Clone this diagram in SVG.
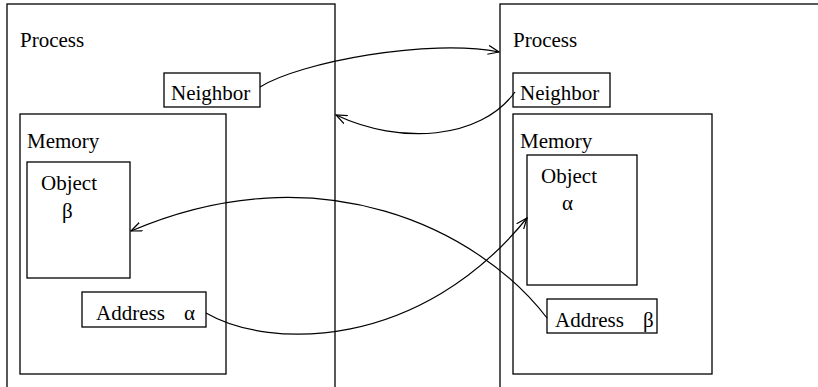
<svg xmlns="http://www.w3.org/2000/svg" width="818" height="387" viewBox="0 0 818 387">
  <style>
    rect { fill: none; stroke: #000; stroke-width: 1.3; }
    text { font-family: 'Liberation Serif', 'Times New Roman', Times, Tinos, 'Nimbus Roman', 'Noto Serif', 'DejaVu Serif', FreeSerif, serif; font-size: 21px; fill: #000; }
    .link { fill: none; stroke: #000; stroke-width: 1.2; marker-end: url(#arrow); }
  </style>
  <defs>
    <marker id="arrow" viewBox="0 0 12 10" refX="11" refY="5" markerWidth="12" markerHeight="10" markerUnits="userSpaceOnUse" orient="auto">
      <path d="M0,0.5 L11,5 L0,9.5" fill="none" stroke="#000" stroke-width="1.2"/>
    </marker>
  </defs>
  <rect width="818" height="387" style="fill:#fff;stroke:none"/>

  <!-- left process -->
  <g id="process-left">
    <rect x="7" y="4" width="328" height="400"/>
    <text x="20" y="47">Process</text>
  </g>
  <g id="neighbor-left">
    <rect x="164" y="73" width="96" height="34"/>
    <text x="171" y="100">Neighbor</text>
  </g>
  <g id="memory-left">
    <rect x="20" y="114" width="206" height="260"/>
    <text x="27" y="148">Memory</text>
  </g>
  <g id="object-left">
    <rect x="27" y="162" width="103" height="116"/>
    <text x="41" y="190">Object</text>
    <text x="62" y="218">β</text>
  </g>
  <g id="address-left">
    <rect x="82" y="292" width="124" height="35"/>
    <text x="96" y="320">Address</text>
    <text x="184" y="320">α</text>
  </g>

  <!-- right process -->
  <g id="process-right">
    <rect x="500" y="4" width="340" height="400"/>
    <text x="513" y="47">Process</text>
  </g>
  <g id="neighbor-right">
    <rect x="513" y="73" width="97" height="34"/>
    <text x="520" y="100">Neighbor</text>
  </g>
  <g id="memory-right">
    <rect x="513" y="114" width="199" height="260"/>
    <text x="520" y="148">Memory</text>
  </g>
  <g id="object-right">
    <rect x="527" y="155" width="110" height="130"/>
    <text x="541" y="183">Object</text>
    <text x="562" y="210">α</text>
  </g>
  <g id="address-right">
    <rect x="547" y="299" width="110" height="34"/>
    <text x="555" y="327">Address</text>
    <text x="643" y="327">β</text>
  </g>

  <!-- connectors -->
  <g id="connectors">
    <path class="link" d="M260,87 C300,62 430,38 499,52"/>
    <path class="link" d="M515,92 C480,140 400,145 336,115"/>
    <path class="link" d="M547,318 C480,230 320,150 131,231"/>
    <path class="link" d="M206,313 C270,350 420,350 527,218"/>
  </g>
</svg>
